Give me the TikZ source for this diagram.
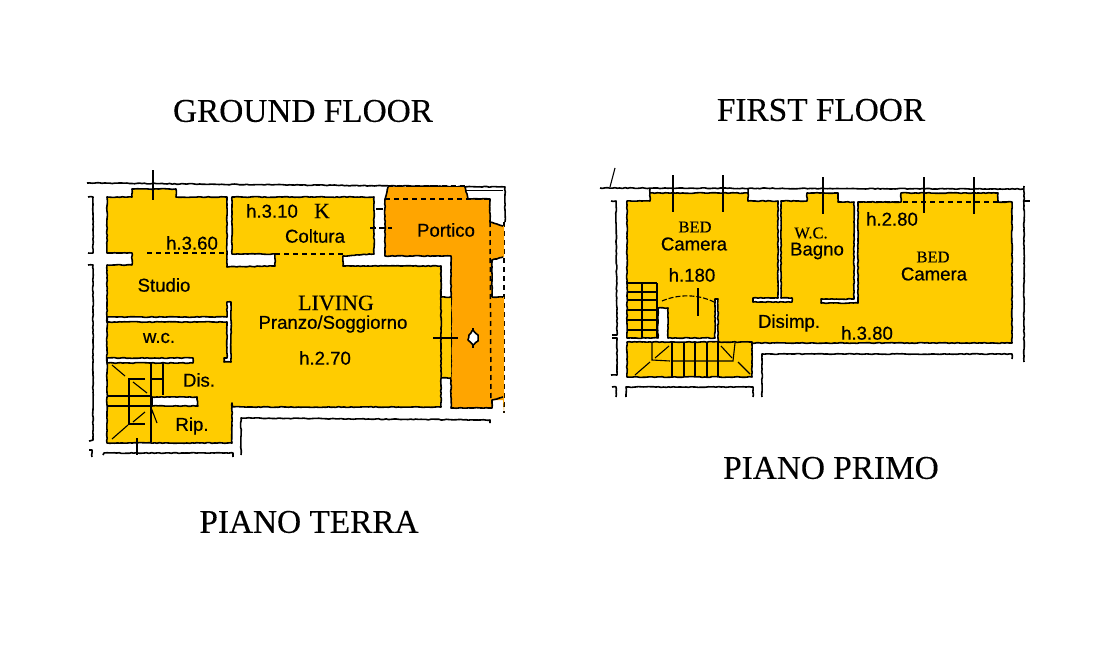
\documentclass[tikz,border=0pt]{standalone}
\usepackage{fontspec}
\setmainfont{Liberation Serif}
\newfontfamily\plansans[FakeBold=0.5]{Liberation Sans}
\newfontfamily\planserif[FakeBold=0.25]{Liberation Serif}
\usetikzlibrary{decorations.pathmorphing}
\definecolor{roomyellow}{HTML}{FFCC00}
\definecolor{porticoorange}{HTML}{FFA500}
\pgfmathsetseed{7}
\tikzset{
  rough/.style={decorate,decoration={random steps,segment length=2.5pt,amplitude=.4pt}},
  wall/.style={draw=black,line width=1.6pt,rough,line join=round},
  thinline/.style={draw=black,line width=1.1pt},
  dashline/.style={draw=black,line width=1.5pt,dash pattern=on 5pt off 4pt},
  title/.style={font=\planserif\fontsize{33.3}{35}\selectfont,inner sep=0pt},
  sanslabel/.style={font=\plansans\fontsize{18.6}{19}\selectfont,inner sep=0pt},
  seriflabel/.style={font=\planserif\fontsize{16.5}{18}\selectfont,inner sep=0pt},
}
\begin{document}
\begin{tikzpicture}[x=1pt,y=-1pt]
\useasboundingbox (0,0) rectangle (1100,650);
% ---------- GROUND FLOOR: outer lines
\draw[wall] (87,183) -- (505,187) -- (505,222);
\draw[dashline] (504,222) -- (504,413);
\draw[draw=black,line width=.8pt] (465,190) -- (503,190);
\draw[wall] (88,197) -- (93,197) -- (93,253) -- (88,253);
\draw[wall] (88,265) -- (93,265) -- (93,440) -- (89,441);
\draw[wall] (241,455) -- (241,418) -- (490,420) -- (490,423);
\draw[wall] (103,455) -- (104,453) -- (233,453) -- (233,457);
\draw[wall] (89,450) -- (92,450) -- (92,457);
% orange portico
\path[fill=porticoorange] (388,187) -- (465,187) -- (468,199) -- (490,199) -- (490,222) -- (504,226) -- (504,257) -- (492,260) -- (492,297) -- (504,297) -- (504,413) -- (503,400) -- (492,400) -- (492,408) -- (451,408) -- (451,256) -- (385,256) -- (385,199) -- cycle;
\draw[wall] (385,199) -- (385,256) -- (451,256) -- (451,408) -- (492,408) -- (492,400) -- (503,397);
\draw[wall] (388,187) -- (385,199);
\draw[wall] (465,187) -- (468,199) -- (490,199) -- (490,222) -- (503,226);
\draw[wall] (492,297) -- (492,260) -- (503,257);
\draw[wall] (492,297) -- (503,297);
\draw[dashline] (385,199) -- (490,199);
\draw[dashline] (388,186) -- (465,186);
\draw[dashline] (490,222) -- (491,400);
% yellow rooms
\path[fill=roomyellow] (441,297) rectangle (451,378);
\draw[wall] (441,266) -- (441,297);
\draw[wall] (441,297) -- (451,297);
\draw[wall] (441,378) -- (451,378);
\draw[wall,fill=roomyellow] (107,197) -- (132,197) -- (132,189) -- (176,189) -- (176,197) -- (227,197) -- (227,267) -- (275,266) -- (275,254) -- (232,254) -- (232,197) -- (374,197) -- (374,254) -- (343,256) -- (343,266) -- (441,266) -- (441,407) -- (232,407) -- (232,403) -- (232,443) -- (107,443) -- (107,265) -- (132,265) -- (132,253) -- (107,253) -- cycle;
\path[fill=roomyellow] (150,249) rectangle (226,258);
\path[fill=roomyellow] (276,249) rectangle (342,259);
\draw[dashline] (147,253) -- (227,253);
\draw[dashline] (275,254) -- (343,254);
% white partitions
\draw[wall,fill=white] (107,317) -- (227,317) -- (227,302) -- (231,302) -- (231,362) -- (224,362) -- (224,358) -- (227,358) -- (227,322) -- (107,322) -- cycle;
\draw[wall,fill=white] (107,358) -- (193,358) -- (193,363) -- (107,363) -- cycle;
\draw[wall,fill=white] (152,397) -- (197,397) -- (198,406) -- (152,406) -- cycle;
% fixtures
\draw[thinline] (153,170) -- (153,200);
\draw[thinline] (137,438) -- (137,455);
\draw[thinline] (433,338) -- (458,338);
\draw[thinline] (473,328) -- (473,348);
\draw[wall,fill=white] (473,330) -- (478,335) -- (478,341) -- (473,345) -- (468,340) -- (469,335) -- cycle;
\draw[thinline] (376,209) -- (383,209);
\draw[thinline,dash pattern=on 6pt off 3pt] (370,228) -- (392,228);
% ground-floor stair
\draw[thinline] (151,362) -- (151,442);
\draw[thinline] (163,363) -- (163,395);
\draw[thinline] (108,396) -- (151,396);
\draw[thinline] (108,406) -- (151,406);
\draw[thinline] (145,379) -- (129,379) -- (129,424) -- (145,424);
\draw[thinline] (152,379) -- (163,379);
\draw[thinline] (112,365) -- (125,376);
\draw[thinline] (133,382) -- (147,393);
\draw[thinline] (145,412) -- (133,422);
\draw[thinline] (128,425) -- (112,439);
\draw[thinline] (157,423) -- (152,410) -- (151,417);
% ---------- FIRST FLOOR: outer lines
\draw[wall] (600,188) -- (1023,189);
\draw[thinline] (610,187) -- (615,168);
\draw[wall] (611,201) -- (616,201) -- (617,335) -- (612,335);
\draw[wall] (612,338) -- (617,338) -- (617,375) -- (611,375);
\draw[wall] (612,387) -- (616,387) -- (616,397);
\draw[wall] (626,397) -- (626,387) -- (753,387) -- (753,397);
\draw[wall] (762,397) -- (762,354) -- (1012,354) -- (1012,359);
\draw[wall] (1024,186) -- (1024,362);
\draw[thinline] (1024,201) -- (1030,201);
\draw[wall] (650,193) -- (650,189);
\draw[wall] (748,193) -- (748,189);
% first-floor rooms
\draw[wall,fill=roomyellow] (627,201) -- (650,201) -- (650,193) -- (748,193) -- (748,201) -- (778,201) -- (778,298) -- (753,298) -- (753,302) -- (792,302) -- (792,298) -- (781,298) -- (781,201) -- (807,201) -- (807,193) -- (838,193) -- (838,202) -- (854,202) -- (854,299) -- (821,299) -- (821,303) -- (858,303) -- (858,202) -- (901,202) -- (901,193) -- (998,193) -- (998,202) -- (1012,202) -- (1012,343) -- (718,343) -- (718,299) -- (715,299) -- (715,338) -- (668,338) -- (668,308) -- (658,308) -- (658,338) -- (627,338) -- cycle;
\draw[wall,fill=roomyellow] (627,342) -- (752,342) -- (752,377) -- (627,377) -- cycle;
\draw[dashline] (858,202) -- (1012,202);
% first-floor fixtures
\foreach \px/\py/\qy in {673/175/212,723/175/212,823/177/214,924/177/213,974/177/214}
  \draw[thinline] (\px,\py) -- (\px,\qy);
\draw[thinline] (657,283) -- (627,283);
\draw[thinline] (657,283) -- (657,338);
\draw[thinline] (642,283) -- (642,338);
\foreach \sy in {292,300,310,320,330}
  \draw[thinline] (627,\sy) -- (657,\sy);
\draw[thinline,dash pattern=on 5pt off 2pt] (662,301) .. controls (678,294) and (698,294) .. (714,302);
\draw[thinline] (698,288) -- (698,316);
\foreach \sx in {672,684,695,707,718}
  \draw[thinline] (\sx,342) -- (\sx,377);
\draw[thinline] (652,342) -- (652,360) -- (670,361);
\draw[thinline] (672,361) -- (733,361) -- (735,343);
\draw[thinline] (669,346) -- (655,358);
\draw[thinline] (650,362) -- (635,375);
\draw[thinline] (721,346) -- (732,358);
\draw[thinline] (738,362) -- (750,374);
% ---------- labels
\node[title] (tGround) at (303,111) {GROUND FLOOR};
\node[title] (tFirst) at (821,110) {FIRST FLOOR};
\node[title] (tTerra) at (309,522) {PIANO TERRA};
\node[title] (tPrimo) at (831,468) {PIANO PRIMO};
\node[sanslabel] (l360) at (192,243) {h.3.60};
\node[sanslabel] (l310) at (272,211) {h.3.10};
\node[seriflabel,font=\planserif\fontsize{22}{22}\selectfont] (lK) at (322,211) {K};
\node[sanslabel] (lColtura) at (315,236) {Coltura};
\node[sanslabel] (lPortico) at (446,230) {Portico};
\node[sanslabel] (lStudio) at (164,285) {Studio};
\node[seriflabel,font=\planserif\fontsize{22}{22}\selectfont] (lLiving) at (336,303) {LIVING};
\node[sanslabel] (lPranzo) at (333,324) {Pranzo/Soggiorno};
\node[sanslabel] (l270) at (325,358) {h.2.70};
\node[sanslabel] (lWc) at (159,338) {w.c.};
\node[sanslabel] (lDis) at (199,380) {Dis.};
\node[sanslabel] (lRip) at (192,426) {Rip.};
\node[seriflabel] (lBedA) at (695,227) {BED};
\node[sanslabel] (lCamA) at (694,244) {Camera};
\node[sanslabel] (l180) at (692,275) {h.180};
\node[seriflabel] (lWC) at (811,233) {W.C.};
\node[sanslabel] (lBagno) at (817,251) {Bagno};
\node[sanslabel] (l280) at (892,219) {h.2.80};
\node[seriflabel] (lBedB) at (933,257) {BED};
\node[sanslabel] (lCamB) at (934,274) {Camera};
\node[sanslabel] (lDisimp) at (789,323) {Disimp.};
\node[sanslabel] (l380) at (867,333) {h.3.80};
\end{tikzpicture}
\end{document}
